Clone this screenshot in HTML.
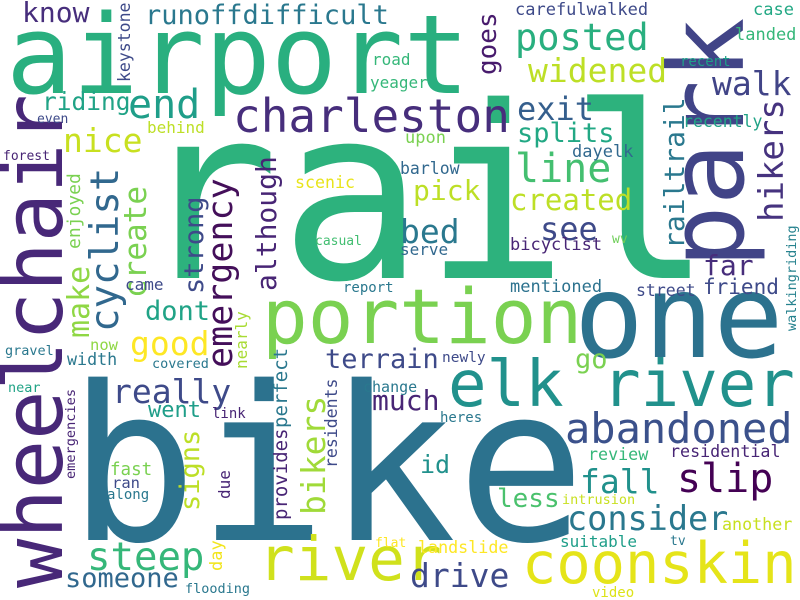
<!DOCTYPE html>
<html><head><meta charset="utf-8"><style>
html,body{margin:0;padding:0;background:#fff;}
svg{display:block;}
text{font-family:"DejaVu Sans Mono","Liberation Mono",monospace;}
</style></head><body>
<svg width="800" height="600" viewBox="0 0 800 600">
<rect width="800" height="600" fill="#fff"/>
<g>
<text x="135" y="278" font-size="240" fill="#2db27d">rail</text>
<text x="68" y="540" font-size="215" fill="#2c728e">bike</text>
<text x="6" y="93" font-size="110" fill="#29af7f">airport</text>
<text transform="translate(743,268) rotate(-90)" font-size="104" fill="#414487">park</text>
<text transform="translate(62,588) rotate(-90)" font-size="82" fill="#482878">wheelchair</text>
<text x="262" y="343" font-size="76" fill="#7ad151">portion</text>
<text x="574" y="357" font-size="116" fill="#2c728e">one</text>
<text x="448" y="406" font-size="64" fill="#21918c">elk river</text>
<text x="258" y="580" font-size="61" fill="#d0e11c">river</text>
<text x="522" y="583" font-size="57" fill="#e5e419">coonskin</text>
<text x="565" y="443" font-size="42" fill="#3b518b">abandoned</text>
<text x="233" y="132" font-size="46" fill="#472e7c">charleston</text>
<text x="145" y="24" font-size="27" fill="#2a788e">runoffdifficult</text>
<text x="515" y="50" font-size="37" fill="#29af7f">posted</text>
<text x="528" y="82" font-size="33" fill="#bddf26">widened</text>
<text x="712" y="95" font-size="33" fill="#414487">walk</text>
<text x="517" y="120" font-size="32" fill="#355f8d">exit</text>
<text x="517" y="142" font-size="27" fill="#22a884">splits</text>
<text x="515" y="182" font-size="40" fill="#44bf70">line</text>
<text x="510" y="210" font-size="29" fill="#bddf26">created</text>
<text x="540" y="240" font-size="32" fill="#3e4a89">see</text>
<text x="413" y="200" font-size="28" fill="#bddf26">pick</text>
<text x="400" y="243" font-size="33" fill="#2a788e">bed</text>
<text x="400" y="255" font-size="16" fill="#31688e">serve</text>
<text x="510" y="250" font-size="17" fill="#482575">bicyclist</text>
<text x="612" y="243" font-size="13" fill="#6ece58">wv</text>
<text transform="translate(496,75) rotate(-90)" font-size="26" fill="#481b6d">goes</text>
<text x="515" y="15" font-size="17" fill="#3e4a89">carefulwalked</text>
<text x="753" y="15" font-size="17" fill="#22a884">case</text>
<text x="735" y="40" font-size="17" fill="#35b779">landed</text>
<text x="680" y="66" font-size="14" fill="#1f9e89">recent</text>
<text x="683" y="127" font-size="16.5" fill="#20a386">recently</text>
<text x="572" y="157" font-size="17" fill="#31688e">dayelk</text>
<text transform="translate(684,249) rotate(-90)" font-size="28" fill="#2a788e">railtrail</text>
<text transform="translate(783,222) rotate(-90)" font-size="34" fill="#46337f">hikers</text>
<text x="703" y="275" font-size="28" fill="#472d7b">far</text>
<text x="703" y="294" font-size="21" fill="#3e4a89">friend</text>
<text x="636" y="296" font-size="16.5" fill="#3e4a89">street</text>
<text x="510" y="292" font-size="17" fill="#2c728e">mentioned</text>
<text transform="translate(796,331) rotate(-90)" font-size="13.5" fill="#26828e">walkingriding</text>
<text x="405" y="143" font-size="17" fill="#7ad151">upon</text>
<text x="400" y="174" font-size="16.5" fill="#31688e">barlow</text>
<text x="370" y="88" font-size="16" fill="#35b779">yeager</text>
<text x="372" y="65" font-size="16" fill="#35b779">road</text>
<text transform="translate(130,82) rotate(-90)" font-size="16.5" fill="#3e4a89">keystone</text>
<text x="22" y="22" font-size="28" fill="#472e7c">know</text>
<text x="42" y="110" font-size="24.5" fill="#20a386">riding</text>
<text x="128" y="118" font-size="40" fill="#1f9e89">end</text>
<text x="37" y="123" font-size="13" fill="#3e4a89">even</text>
<text x="147" y="133" font-size="16" fill="#bddf26">behind</text>
<text x="63" y="152" font-size="33" fill="#c8e020">nice</text>
<text x="3" y="160" font-size="13" fill="#482575">forest</text>
<text transform="translate(118,332) rotate(-90)" font-size="39" fill="#31688e">cyclist</text>
<text transform="translate(146,298) rotate(-90)" font-size="31" fill="#7ad151">create</text>
<text transform="translate(80,249) rotate(-90)" font-size="18" fill="#7ad151">enjoyed</text>
<text transform="translate(89,338) rotate(-90)" font-size="30" fill="#8fd744">make</text>
<text transform="translate(203,294) rotate(-90)" font-size="27" fill="#3e4a89">strong</text>
<text transform="translate(232,368) rotate(-90)" font-size="35" fill="#440f5a">emergency</text>
<text transform="translate(276,291) rotate(-90)" font-size="28" fill="#482575">although</text>
<text x="295" y="188" font-size="16.6" fill="#e8e419">scenic</text>
<text x="315" y="245" font-size="13" fill="#42be71">casual</text>
<text x="125" y="290" font-size="16" fill="#3e4a89">came</text>
<text x="343" y="292" font-size="14" fill="#2a788e">report</text>
<text x="145" y="320" font-size="27" fill="#20a386">dont</text>
<text x="130" y="355" font-size="33" fill="#fde725">good</text>
<text x="90" y="350" font-size="15.5" fill="#8fd744">now</text>
<text x="5" y="355" font-size="13.5" fill="#2a788e">gravel</text>
<text x="67" y="365" font-size="16.7" fill="#2a788e">width</text>
<text x="152" y="368" font-size="13.5" fill="#2a788e">covered</text>
<text transform="translate(247,369) rotate(-90)" font-size="16" fill="#a8db34">nearly</text>
<text x="325" y="368" font-size="27" fill="#3e4a89">terrain</text>
<text x="363" y="392" font-size="15" fill="#2a788e">change</text>
<text x="372" y="410" font-size="28" fill="#482575">much</text>
<text x="442" y="362" font-size="14.5" fill="#3e4a89">newly</text>
<text x="575" y="368" font-size="27" fill="#7ad151">go</text>
<text x="112" y="403" font-size="33" fill="#3e4a89">really</text>
<text x="148" y="417" font-size="22" fill="#1f9e89">went</text>
<text x="212" y="418" font-size="14" fill="#482575">link</text>
<text x="8" y="392" font-size="13.5" fill="#20a386">near</text>
<text x="440" y="422" font-size="14" fill="#2a788e">heres</text>
<text transform="translate(75,479) rotate(-90)" font-size="13.6" fill="#482575">emergencies</text>
<text transform="translate(287,520) rotate(-90)" font-size="19" fill="#482575">provides</text>
<text transform="translate(287,428) rotate(-90)" font-size="19" fill="#2a788e">perfect</text>
<text transform="translate(325,515) rotate(-90)" font-size="33" fill="#a0da39">bikers</text>
<text transform="translate(337,468) rotate(-90)" font-size="16.5" fill="#3e4a89">residents</text>
<text transform="translate(199,511) rotate(-90)" font-size="27" fill="#bddf26">signs</text>
<text x="110" y="475" font-size="17.5" fill="#7ad151">fast</text>
<text x="112" y="488" font-size="15.5" fill="#3e4a89">ran</text>
<text x="107" y="499" font-size="14" fill="#2a788e">along</text>
<text transform="translate(230,499) rotate(-90)" font-size="16" fill="#482575">due</text>
<text transform="translate(222,571) rotate(-90)" font-size="17" fill="#f2e51d">day</text>
<text x="87" y="570" font-size="39" fill="#35b779">steep</text>
<text x="65" y="587" font-size="27" fill="#31688e">someone</text>
<text x="185" y="593" font-size="13.5" fill="#2a788e">flooding</text>
<text x="375" y="547" font-size="13" fill="#fde725">flat</text>
<text x="418" y="553" font-size="16.7" fill="#fde725">landslide</text>
<text x="410" y="587" font-size="33" fill="#3e4a89">drive</text>
<text x="592" y="597" font-size="14" fill="#dde318">video</text>
<text x="560" y="547" font-size="16" fill="#1f9e89">suitable</text>
<text x="670" y="545" font-size="13" fill="#2a788e">tv</text>
<text x="722" y="530" font-size="16.7" fill="#c8e020">another</text>
<text x="562" y="504" font-size="13.5" fill="#c8e020">intrusion</text>
<text x="497" y="507" font-size="26" fill="#4ac16d">less</text>
<text x="567" y="530" font-size="33.5" fill="#2a788e">consider</text>
<text x="580" y="493" font-size="33" fill="#21918c">fall</text>
<text x="677" y="492" font-size="40" fill="#440154">slip</text>
<text x="420" y="473" font-size="25" fill="#21918c">id</text>
<text x="588" y="460" font-size="16.7" fill="#35b779">review</text>
<text x="670" y="457" font-size="16.7" fill="#482575">residential</text>
</g>
</svg>
</body></html>
